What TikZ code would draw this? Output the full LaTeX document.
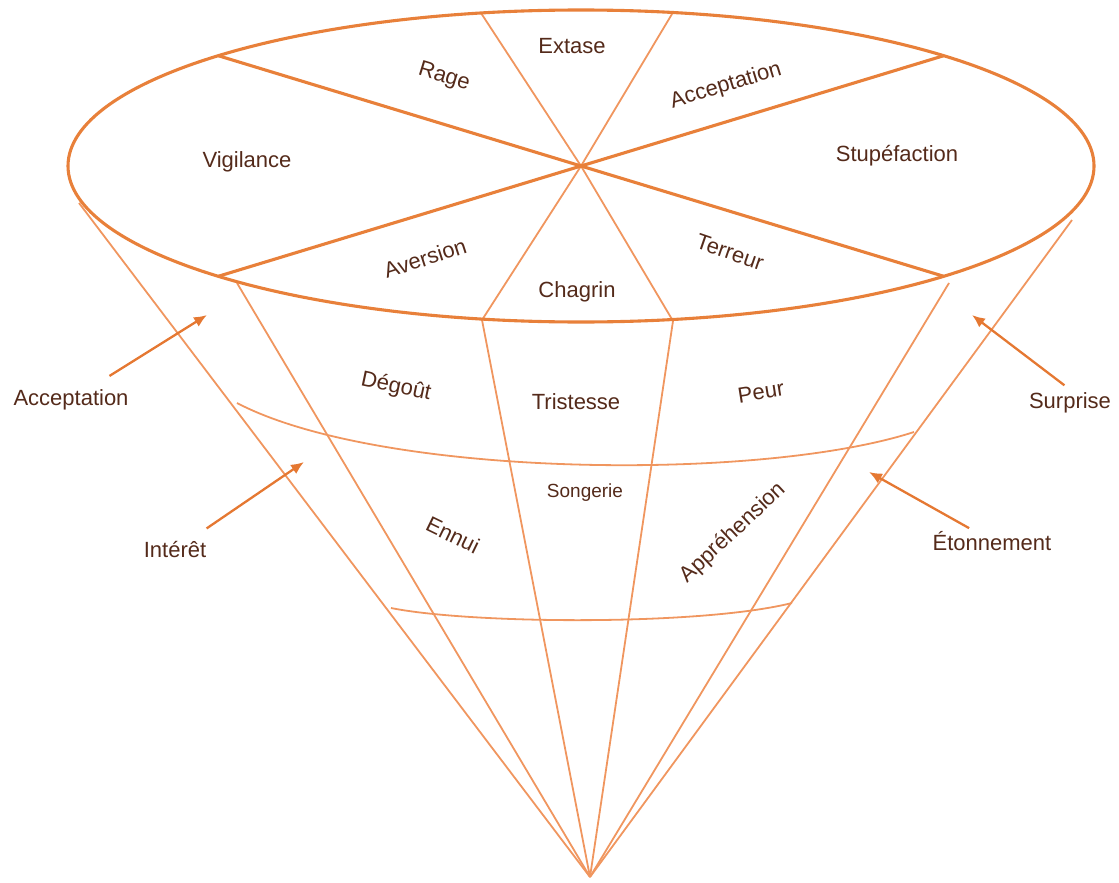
\documentclass[tikz,border=0pt]{standalone}
\usepackage{fontspec}
\setmainfont{Liberation Sans}
\usetikzlibrary{arrows.meta}
\definecolor{rim}{RGB}{232,128,58}
\definecolor{ray}{RGB}{240,150,95}
\definecolor{pointer}{RGB}{229,120,50}
\definecolor{word}{RGB}{84,42,26}
\tikzstyle{rimline} = [draw=rim, line width=3.1pt]
\tikzstyle{rayline} = [draw=ray, line width=1.8pt]
\tikzstyle{arrow} = [draw=pointer, line width=2.3pt, -{Latex[length=13pt,width=11pt]}]
\tikzstyle{emo} = [text=word, font=\fontsize{22}{26}\selectfont, inner sep=2pt]
\tikzstyle{side} = [text=word, font=\fontsize{22}{26}\selectfont, inner sep=3pt]

\begin{document}
\begin{tikzpicture}[x=1pt, y=-1pt] % one unit = one pixel of the reference, y downwards
    \useasboundingbox (0,0) rectangle (1119,883);

    \coordinate (hub) at (581,166);
    \coordinate (apex) at (590,877);
    % where the cone lines leave the rim
    \coordinate (c1) at (79,203);
    \coordinate (c2) at (237,283);
    \coordinate (c3) at (482,320);
    \coordinate (c4) at (673,321);
    \coordinate (c5) at (949,283);
    \coordinate (c6) at (1072,220);
    \coordinate (top3) at (481,13);
    \coordinate (top4) at (672,14);

    % cone
    \foreach \c in {c1,c2,c3,c4,c5,c6}
        \draw[rayline] (\c) -- (apex);
    \draw[rayline] (top3) -- (hub) -- (c4);
    \draw[rayline] (top4) -- (hub) -- (c3);
    \draw[rayline] (237,403) .. controls (380,478) and (760,482) .. (914,432);
    \draw[rayline] (391,608) .. controls (470,624) and (700,626) .. (792,603);

    % rim and its spokes
    \draw[rimline] (hub) ellipse [x radius=513pt, y radius=156pt];
    \foreach \t in {45,135,225,315}
        \draw[rimline] (hub) -- ({581+513*cos(\t)},{166-156*sin(\t)});

    \node (extase) [emo] at (572,46) {Extase};
    \node (rage) [emo, rotate=-17] at (444,77) {Rage};
    \node (accept) [emo, rotate=17] at (726,86) {Acceptation};
    \node (vigil) [emo] at (247,162) {Vigilance};
    \node (stupef) [emo] at (897,156) {Stupéfaction};
    \node (aversion) [emo, rotate=18] at (425,258) {Aversion};
    \node (terreur) [emo, rotate=-19] at (730,252) {Terreur};
    \node (chagrin) [emo] at (577,292) {Chagrin};
    \node (degout) [emo, rotate=-12] at (396,387) {Dégoût};
    \node (tristesse) [emo] at (576,402) {Tristesse};
    \node (peur) [emo, rotate=9] at (761,392) {Peur};
    \node (songerie) [emo, font=\fontsize{19}{22}\selectfont] at (585,493) {Songerie};
    \node (ennui) [emo, rotate=-26] at (453,535) {Ennui};
    \node (apprehension) [emo, rotate=43] at (733,533) {Appréhension};

    % outside labels
    \node (laccept) [side] at (71,400) {Acceptation};
    \node (linteret) [side] at (175,550) {Intérêt};
    \node (lsurprise) [side] at (1070,403) {Surprise};
    \node (letonn) [side] at (992,541) {Étonnement};
    \coordinate (taccept) at (207,315);
    \coordinate (tinteret) at (304,462);
    \coordinate (tsurprise) at (972,315);
    \coordinate (tetonn) at (869,472);

    \draw[arrow, shorten <=20pt] (laccept) -- (taccept);
    \draw[arrow, shorten <=18pt] (linteret) -- (tinteret);
    \draw[arrow, shorten <=7pt] (lsurprise.north) -- (tsurprise);
    \draw[arrow] (letonn) -- (tetonn);

\end{tikzpicture}
\end{document}
